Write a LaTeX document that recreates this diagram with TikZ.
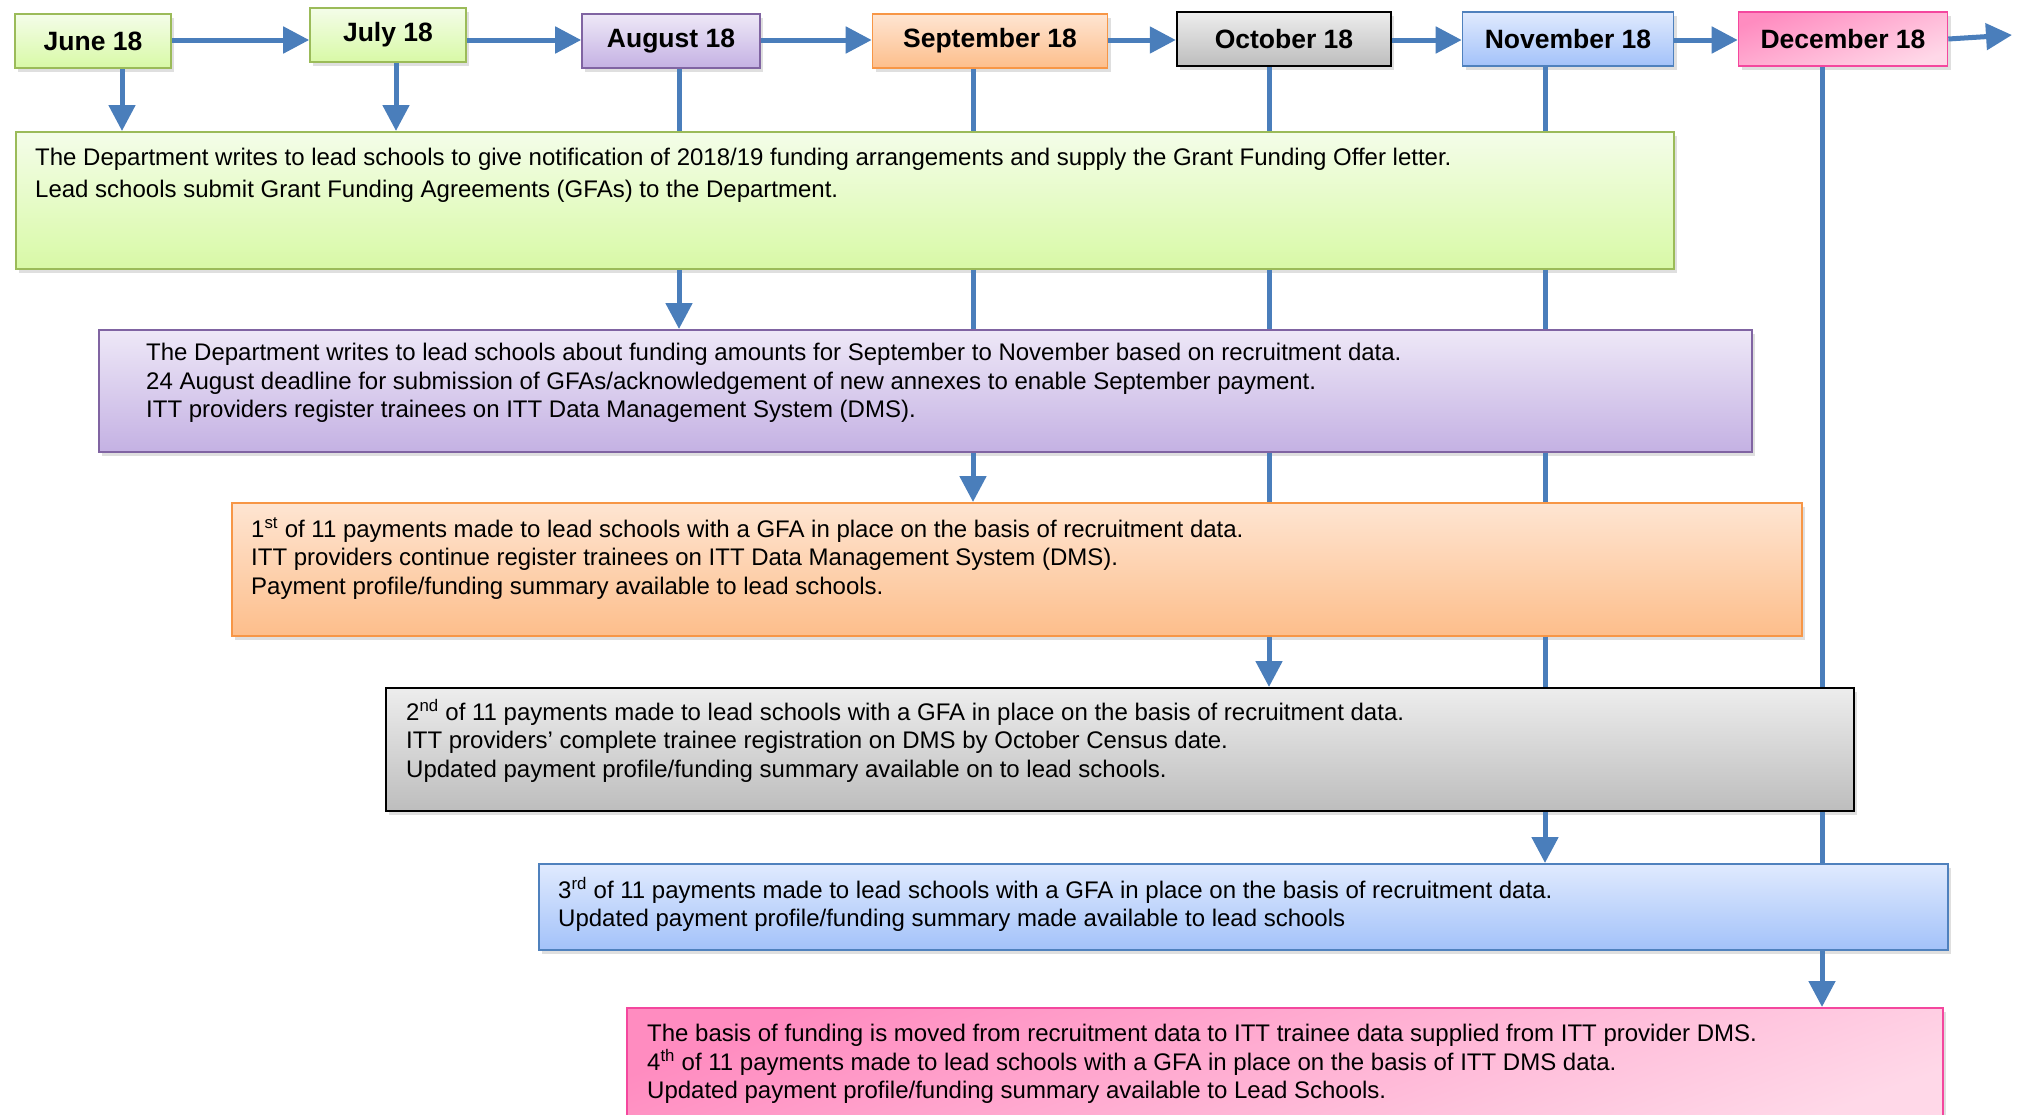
\documentclass[tikz,border=0pt]{standalone}
\usepackage{fontspec}
\setmainfont{Liberation Sans}
\usetikzlibrary{arrows.meta,shadows}

\definecolor{lineblue}{HTML}{4A7EBB}
\definecolor{grnline}{HTML}{9BBB59}
\definecolor{grntop}{HTML}{F4FDE9}
\definecolor{grnbot}{HTML}{D8F9A6}
\definecolor{purline}{HTML}{8064A2}
\definecolor{purtop}{HTML}{EEE8F7}
\definecolor{purbot}{HTML}{C4B1E3}
\definecolor{orgline}{HTML}{F79646}
\definecolor{orgtop}{HTML}{FEE5D2}
\definecolor{orgbot}{HTML}{FDBE8B}
\definecolor{gryline}{HTML}{000000}
\definecolor{grytop}{HTML}{EDEDED}
\definecolor{grybot}{HTML}{BDBDBD}
\definecolor{bluline}{HTML}{4F81BD}
\definecolor{blutop}{HTML}{E0EAFE}
\definecolor{blubot}{HTML}{A3C2F9}
\definecolor{pnkline}{HTML}{F4479E}
\definecolor{pnktop}{HTML}{FF8CC0}
\definecolor{pnkbot}{HTML}{FFD8E8}

\tikzset{
	month/.style={line width=1.6pt, inner sep=0pt, minimum height=54pt,
		font=\fontsize{26.5}{30}\selectfont\bfseries,
		drop shadow={shadow xshift=3pt, shadow yshift=-4pt, opacity=0.25}},
	panel/.style={line width=1.6pt, inner sep=0pt, anchor=north west,
		drop shadow={shadow xshift=3pt, shadow yshift=-4pt, opacity=0.25}},
	txt/.style={anchor=north west, inner sep=0pt, align=left,
		font=\fontsize{24}{28.5}\selectfont},
	greenbox/.style={draw=grnline, top color=grntop, bottom color=grnbot},
	purplebox/.style={draw=purline, top color=purtop, bottom color=purbot},
	orangebox/.style={draw=orgline, top color=orgtop, bottom color=orgbot},
	graybox/.style={draw=gryline, line width=2.4pt, top color=grytop, bottom color=grybot},
	bluebox/.style={draw=bluline, top color=blutop, bottom color=blubot},
	pinkbox/.style={draw=pnkline, top color=pnktop, bottom color=pnkbot, shading angle=20},
	conn/.style={draw=lineblue, line width=5pt},
	arr/.style={conn, -{Triangle[width=26pt,length=26pt]}},
}

\begin{document}
\begin{tikzpicture}[x=1pt, y=-1pt]
	\useasboundingbox (0,0) rectangle (2020,1114);
	%%%%% MONTHS %%%%%
	\node[month, greenbox, minimum width=156pt] (jun) at (93,41) {June 18};
	\node[month, greenbox, minimum width=156pt] (jul) at (388,35) {July 18};
	\node[month, purplebox, minimum width=178pt] (aug) at (671,41) {August 18};
	\node[month, orangebox, minimum width=235pt] (sep) at (990,41) {September 18};
	\node[month, graybox, minimum width=214pt] (oct) at (1284,39) {October 18};
	\node[month, bluebox, minimum width=211pt] (nov) at (1568,39) {November 18};
	\node[month, pinkbox, minimum width=209pt] (dec) at (1843,39) {December 18};
	
	%%%%% PANELS %%%%%
	\node[panel, greenbox, minimum width=1658pt, minimum height=137pt] (green) at (15,131) {};
	\node[panel, purplebox, minimum width=1653pt, minimum height=122pt] (purple) at (98,329) {};
	\node[panel, orangebox, minimum width=1570pt, minimum height=133pt] (orange) at (231,502) {};
	\node[panel, graybox, minimum width=1468pt, minimum height=123pt] (gray) at (385,687) {};
	\node[panel, bluebox, minimum width=1409pt, minimum height=86pt] (blue) at (538,863) {};
	\node[panel, pinkbox, minimum width=1316pt, minimum height=130pt] (pink) at (626,1007) {};
	
	\node[txt, font=\fontsize{24}{32}\selectfont] (green-t) at (35,148) {The Department writes to lead schools to give notification of 2018/19 funding arrangements and supply the Grant Funding Offer letter.\\
		Lead schools submit Grant Funding Agreements (GFAs) to the Department.};
	\node[txt] (purple-t) at (146,343) {The Department writes to lead schools about funding amounts for September to November based on recruitment data.\\
		24 August deadline for submission of GFAs/acknowledgement of new annexes to enable September payment.\\
		ITT providers register trainees on ITT Data Management System (DMS).};
	\node[txt] (orange-t) at (251,517) {1\textsuperscript{st} of 11 payments made to lead schools with a GFA in place on the basis of recruitment data.\\
		ITT providers continue register trainees on ITT Data Management System (DMS).\\
		Payment profile/funding summary available to lead schools.};
	\node[txt] (gray-t) at (406,699) {2\textsuperscript{nd} of 11 payments made to lead schools with a GFA in place on the basis of recruitment data.\\
		ITT providers’ complete trainee registration on DMS by October Census date.\\
		Updated payment profile/funding summary available on to lead schools.};
	\node[txt] (blue-t) at (558,877) {3\textsuperscript{rd} of 11 payments made to lead schools with a GFA in place on the basis of recruitment data.\\
		Updated payment profile/funding summary made available to lead schools};
	\node[txt] (pink-t) at (647,1024) {The basis of funding is moved from recruitment data to ITT trainee data supplied from ITT provider DMS.\\
		4\textsuperscript{th} of 11 payments made to lead schools with a GFA in place on the basis of ITT DMS data.\\
		Updated payment profile/funding summary available to Lead Schools.};
	
	%%%%% TIMELINE %%%%%
	\coordinate (row) at (0,40);
	\coordinate (next) at (2012,35);
	\draw[arr] (jun.east |- row) -- (jul.west |- row);
	\draw[arr] (jul.east |- row) -- (aug.west |- row);
	\draw[arr] (aug.east |- row) -- (sep.west |- row);
	\draw[arr] (sep.east |- row) -- (oct.west |- row);
	\draw[arr] (oct.east |- row) -- (nov.west |- row);
	\draw[arr] (nov.east |- row) -- (dec.west |- row);
	\draw[arr] (dec.east) -- (next);
	
	%%%%% COLUMNS %%%%%
	\coordinate (cjun) at (122,0);
	\coordinate (cjul) at (396,0);
	\coordinate (caug) at (679,0);
	\coordinate (csep) at (973,0);
	\coordinate (coct) at (1269,0);
	\coordinate (cnov) at (1545,0);
	\coordinate (cdec) at (1822,0);
	
	\draw[arr] (cjun |- jun.south) -- (cjun |- green.north);
	\draw[arr] (cjul |- jul.south) -- (cjul |- green.north);
	
	\draw[conn] (caug |- aug.south) -- (caug |- green.north);
	\draw[arr] (caug |- green.south) -- (caug |- purple.north);
	
	\draw[conn] (csep |- sep.south) -- (csep |- green.north);
	\draw[conn] (csep |- green.south) -- (csep |- purple.north);
	\draw[arr] (csep |- purple.south) -- (csep |- orange.north);
	
	\draw[conn] (coct |- oct.south) -- (coct |- green.north);
	\draw[conn] (coct |- green.south) -- (coct |- purple.north);
	\draw[conn] (coct |- purple.south) -- (coct |- orange.north);
	\draw[arr] (coct |- orange.south) -- (coct |- gray.north);
	
	\draw[conn] (cnov |- nov.south) -- (cnov |- green.north);
	\draw[conn] (cnov |- green.south) -- (cnov |- purple.north);
	\draw[conn] (cnov |- purple.south) -- (cnov |- orange.north);
	\draw[conn] (cnov |- orange.south) -- (cnov |- gray.north);
	\draw[arr] (cnov |- gray.south) -- (cnov |- blue.north);
	
	\draw[conn] (cdec |- dec.south) -- (cdec |- gray.north);
	\draw[conn] (cdec |- gray.south) -- (cdec |- blue.north);
	\draw[arr] (cdec |- blue.south) -- (cdec |- pink.north);
\end{tikzpicture}
\end{document}
